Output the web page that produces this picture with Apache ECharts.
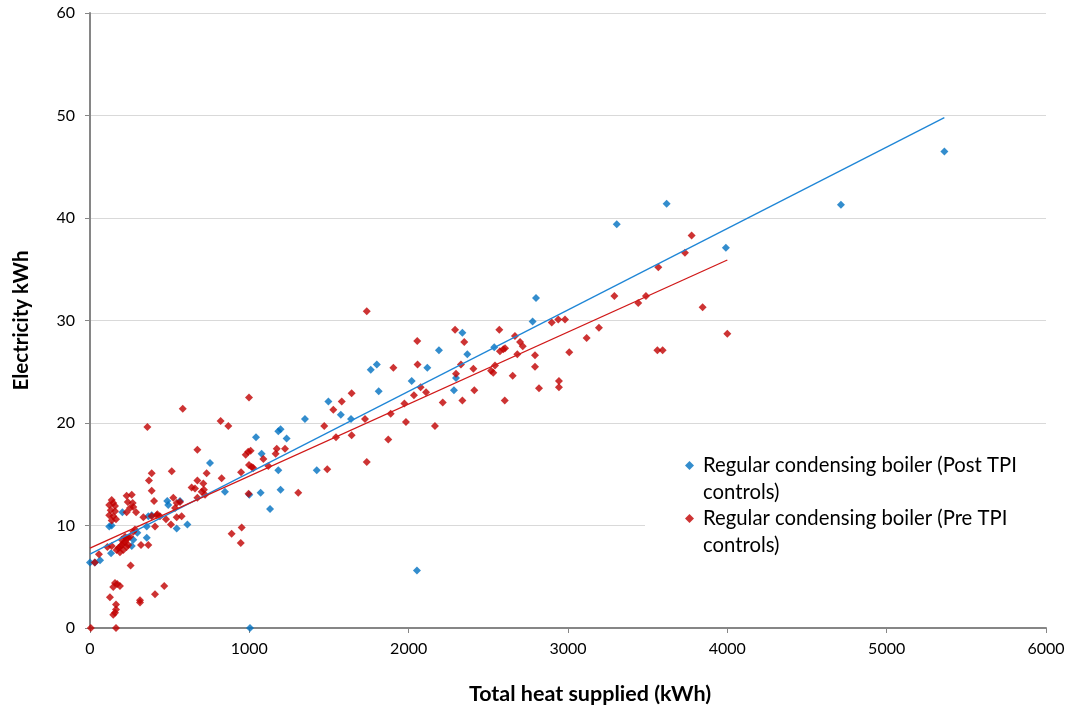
<!DOCTYPE html>
<html>
<head>
<meta charset="utf-8">
<script src="https://cdn.jsdelivr.net/npm/echarts@6/dist/echarts.min.js"></script>
<style>
  html, body { margin: 0; padding: 0; background: #ffffff; }
  #chart { width: 1069px; height: 710px; }
</style>
</head>
<body>
<div id="chart"></div>
<script>
// Series names (legend wraps them onto two lines)
const seriesNames = [
  'Regular condensing boiler (Post TPI controls)',
  'Regular condensing boiler (Pre TPI controls)'
];

// [total heat supplied kWh, electricity kWh]
const postTPI = [
  [0, 6.4], [31, 6.4], [63, 6.6], [121, 9.9], [136, 10.0], [132, 7.3], [203, 11.3],
  [262, 8.0], [272, 8.6], [297, 9.3], [356, 8.8], [356, 9.9], [366, 10.9], [387, 11.0],
  [485, 12.4], [491, 12.0], [544, 9.7], [565, 12.4], [611, 10.1], [753, 16.1], [847, 13.3],
  [1004, 0], [1000, 13.0], [1042, 18.6], [1071, 13.2], [1077, 17.0], [1130, 11.6],
  [1182, 19.2], [1196, 19.4], [1234, 18.5], [1182, 15.4], [1196, 13.5], [1349, 20.4],
  [1423, 15.4], [1496, 22.1], [1574, 20.8], [1638, 20.4], [1762, 25.2], [1800, 25.7],
  [1812, 23.1], [2019, 24.1], [2052, 5.6], [2117, 25.4], [2190, 27.1], [2284, 23.2],
  [2297, 24.4], [2337, 28.8], [2368, 26.7], [2537, 27.4], [2778, 29.9], [2799, 32.2],
  [3306, 39.4], [3619, 41.4], [3991, 37.1], [4713, 41.3], [5362, 46.5]
];

const preTPI = [
  [5, 0], [163, 0], [30, 6.4], [56, 7.2], [109, 7.9], [136, 8.0],
  [136, 12.5], [146, 12.2], [121, 12.0], [157, 11.9], [130, 11.5], [157, 11.4],
  [121, 11.0], [146, 10.9], [136, 10.5], [163, 10.6],
  [230, 12.9], [262, 13.0], [237, 12.3], [268, 12.2], [272, 11.8], [251, 11.7],
  [230, 11.3], [289, 11.3],
  [360, 19.6], [387, 15.1], [370, 14.4], [387, 13.4], [402, 12.4],
  [335, 10.8], [387, 10.9], [419, 11.0], [439, 10.9], [408, 9.9], [366, 8.1],
  [167, 7.6], [178, 7.8], [188, 7.9], [199, 8.1], [209, 8.3], [220, 8.4], [230, 8.7],
  [240, 8.8], [251, 8.9], [272, 9.4], [282, 9.6], [188, 7.4], [209, 7.6], [230, 7.9],
  [240, 8.1], [199, 8.6], [220, 8.9],
  [255, 6.1], [157, 4.4], [171, 4.3], [188, 4.1], [146, 4.0], [125, 3.0], [163, 2.3],
  [146, 1.3], [157, 1.5], [163, 1.8], [314, 2.7], [314, 2.5], [408, 3.3], [466, 4.1],
  [320, 8.1],
  [508, 10.1], [544, 10.8], [575, 10.9], [477, 10.6], [513, 15.3], [523, 12.7],
  [544, 12.2], [565, 12.3], [534, 11.7], [423, 11.1], [582, 21.4], [674, 17.4],
  [638, 13.7], [659, 13.6], [674, 14.4], [711, 14.1], [732, 15.1], [715, 13.5],
  [722, 13.0], [674, 12.7], [701, 13.3],
  [826, 14.6], [820, 20.2], [868, 19.7], [889, 9.2], [952, 9.8], [946, 8.3],
  [998, 22.5], [995, 13.1],
  [948, 15.2], [977, 16.9], [993, 17.2], [1008, 17.3], [998, 15.9], [1015, 15.7],
  [1025, 15.6], [1088, 16.5], [1119, 15.8], [1172, 17.5], [1165, 17.0], [1224, 17.5],
  [1307, 13.2], [1470, 19.7], [1489, 15.5], [1527, 21.3], [1544, 18.6], [1580, 22.1],
  [1642, 22.9], [1642, 18.8], [1726, 20.4], [1737, 16.2], [1737, 30.9], [1872, 18.4],
  [1887, 20.9], [1904, 25.4], [1973, 21.9], [1983, 20.1], [2033, 22.7], [2054, 28.0],
  [2056, 25.7], [2075, 23.5], [2109, 23.0], [2165, 19.7], [2214, 22.0], [2291, 29.1],
  [2297, 24.8], [2328, 25.7], [2337, 22.2], [2349, 27.9], [2406, 25.3], [2412, 23.2],
  [2517, 25.1], [2531, 24.9], [2542, 25.6], [2569, 29.1], [2573, 27.0], [2594, 27.2],
  [2605, 27.3], [2653, 24.6], [2603, 22.2], [2667, 28.5], [2682, 26.7], [2699, 27.9],
  [2716, 27.5],
  [2793, 26.6], [2793, 25.5], [2818, 23.4], [2898, 29.8], [2939, 30.1], [2981, 30.1],
  [3008, 26.9], [3117, 28.3], [3194, 29.3], [3291, 32.4], [3441, 31.7], [3489, 32.4],
  [3567, 35.2], [3561, 27.1], [3594, 27.1], [3845, 31.3], [4000, 28.7], [2943, 24.1],
  [2943, 23.5], [3776, 38.3], [3734, 36.6]
];

// Linear trend lines (start and end of each fitted line)
const postTrend = [[0, 7.2], [5362, 49.8]];
const preTrend = [[0, 7.8], [4000, 35.9]];

// Axis ranges: [min, max, interval]
const xRange = [0, 6000, 1000];
const yRange = [0, 60, 10];

const axisTitles = { x: 'Total heat supplied (kWh)', y: 'Electricity kWh' };

const FONT = 'Lato';
const chart = echarts.init(document.getElementById('chart'), null, { renderer: 'canvas' });

// Legend text: blank first line so the marker sits beside the first wrapped line
const legendLabel = n => '\n' + n.replace(' controls)', '\ncontrols)');

chart.setOption({
  animation: false,
  backgroundColor: '#ffffff',
  grid: { left: 90, right: 23, top: 13, bottom: 82 },
  legend: {
    orient: 'vertical',
    left: 645,
    top: 425,
    padding: [0, 60, 0, 40],
    itemGap: -28,
    itemWidth: 9,
    itemHeight: 9,
    backgroundColor: '#ffffff',
    data: seriesNames.map(n => ({ name: n, icon: 'diamond' })),
    formatter: legendLabel,
    textStyle: { fontFamily: FONT, fontSize: 20.3, lineHeight: 27, color: '#000000', padding: [0, 0, 0, 4] }
  },
  xAxis: {
    type: 'value',
    min: xRange[0], max: xRange[1], interval: xRange[2],
    name: axisTitles.x,
    nameLocation: 'middle',
    nameGap: 55,
    nameTextStyle: { fontFamily: FONT, fontSize: 21.5, fontWeight: 'bold', color: '#000000', padding: [0, 0, 0, 44] },
    axisLine: { show: true, lineStyle: { color: '#868686', width: 2 } },
    axisTick: { show: true, inside: false, length: 5, lineStyle: { color: '#868686', width: 1 } },
    axisLabel: { fontFamily: FONT, fontSize: 16, color: '#000000', margin: 13, formatter: v => String(v) },
    splitLine: { show: false }
  },
  yAxis: {
    type: 'value',
    min: yRange[0], max: yRange[1], interval: yRange[2],
    name: axisTitles.y,
    nameLocation: 'middle',
    nameGap: 58,
    nameTextStyle: { fontFamily: FONT, fontSize: 20.5, fontWeight: 'bold', color: '#000000' },
    axisLine: { show: true, lineStyle: { color: '#868686', width: 2 } },
    axisTick: { show: true, inside: false, length: 5, lineStyle: { color: '#868686', width: 1 } },
    axisLabel: { fontFamily: FONT, fontSize: 16, color: '#000000', margin: 15 },
    splitLine: { show: true, lineStyle: { color: '#d9d9d9', width: 1 } }
  },
  series: [
    {
      name: seriesNames[0], type: 'scatter', data: postTPI,
      symbol: 'diamond', symbolSize: 8, itemStyle: { color: '#0070c0' }, z: 2
    },
    {
      name: seriesNames[1], type: 'scatter', data: preTPI,
      symbol: 'diamond', symbolSize: 8, itemStyle: { color: '#c00000' }, z: 3
    },
    {
      type: 'line', data: postTrend, symbol: 'none', silent: true, z: 4,
      lineStyle: { color: '#1f86d6', width: 1.3 }
    },
    {
      type: 'line', data: preTrend, symbol: 'none', silent: true, z: 4,
      lineStyle: { color: '#d01818', width: 1.3 }
    }
  ]
});
</script>
</body>
</html>
